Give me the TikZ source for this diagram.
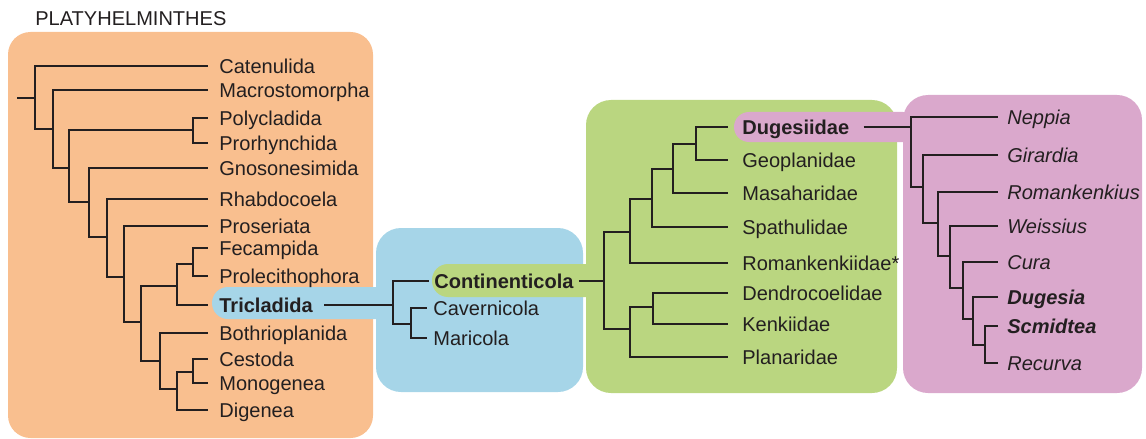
\documentclass[tikz,border=0pt]{standalone}
\usepackage{fontspec}
\setmainfont{Liberation Sans}
\usepackage{tikz}
\usetikzlibrary{positioning}

\definecolor{orangebox}{RGB}{249,191,143}
\definecolor{bluebox}{RGB}{166,213,232}
\definecolor{greenbox}{RGB}{186,214,128}
\definecolor{pinkbox}{RGB}{218,168,204}
\definecolor{treeline}{RGB}{35,31,32}

\newcommand{\taxfont}{\fontsize{11.4pt}{13.7pt}\selectfont}

\begin{document}
\begin{tikzpicture}[x=0.02cm, y=-0.02cm,
    clade/.style={line width=1.1pt, draw=treeline},
    leaf/.style={anchor=west, inner xsep=#1*0.02cm, inner ysep=0pt,
      text height=8.2pt, text depth=0pt, font=\taxfont, text=treeline},
    leaf/.default=11]
    \useasboundingbox (0,0) rectangle (1146,439);

    % Group boxes
    \fill[orangebox, rounded corners=0.45cm] (8,32) rectangle (373,438);
    \fill[bluebox, rounded corners=0.5cm] (376,228) rectangle (583,392);
    \fill[greenbox, rounded corners=0.5cm] (586,100) rectangle (897,393);
    \fill[pinkbox, rounded corners=0.5cm] (903,95) rectangle (1142,393);

    % Highlight bands linking to the next box
    \fill[bluebox, rounded corners=0.32cm] (212,287) rectangle (395,319);
    \fill[greenbox, rounded corners=0.32cm] (432,264) rectangle (605,297);
    \fill[pinkbox, rounded corners=0.3cm] (734,112) rectangle (918,142);

    % Title
    \node[leaf=0] (title) at (35,18.5) {PLATYHELMINTHES};

    % Platyhelminthes leaves
    \node[leaf] (catenulida) at (208,66) {Catenulida};
    \node[leaf] (macro) at (208,90) {Macrostomorpha};
    \node[leaf] (poly) at (208,118) {Polycladida};
    \node[leaf] (prorh) at (208,143) {Prorhynchida};
    \node[leaf] (gnoso) at (208,168) {Gnosonesimida};
    \node[leaf] (rhabdo) at (208,199) {Rhabdocoela};
    \node[leaf] (proser) at (208,226) {Proseriata};
    \node[leaf] (fecamp) at (208,248) {Fecampida};
    \node[leaf] (prolec) at (208,276) {Prolecithophora};
    \node[leaf, font=\taxfont\bfseries] (tricl) at (208,305) {Tricladida};
    \node[leaf] (bothrio) at (208,333) {Bothrioplanida};
    \node[leaf] (cestoda) at (208,359) {Cestoda};
    \node[leaf] (monog) at (208,383) {Monogenea};
    \node[leaf] (digenea) at (208,410) {Digenea};

    % Platyhelminthes branch points
    \coordinate (root0) at (17,98);
    \coordinate (nA) at (35,98);
    \coordinate (nB) at (53,129);
    \coordinate (nC) at (69,168);
    \coordinate (nPP) at (193,130);
    \coordinate (nD) at (89,202);
    \coordinate (nE) at (107,237);
    \coordinate (nF) at (124,277);
    \coordinate (nG) at (141,322);
    \coordinate (nH) at (177,286);
    \coordinate (nI) at (193,264);
    \coordinate (nJ) at (160,361);
    \coordinate (nK) at (177,389);
    \coordinate (nL) at (193,372);

    \draw[clade] (root0) -- (nA);
    \draw[clade] (nA) |- (catenulida.west) (nA) |- (nB);
    \draw[clade] (nB) |- (macro.west) (nB) |- (nC);
    \draw[clade] (nC) |- (nPP) (nC) |- (nD);
    \draw[clade] (nPP) |- (poly.west) (nPP) |- (prorh.west);
    \draw[clade] (nD) |- (gnoso.west) (nD) |- (nE);
    \draw[clade] (nE) |- (rhabdo.west) (nE) |- (nF);
    \draw[clade] (nF) |- (proser.west) (nF) |- (nG);
    \draw[clade] (nG) |- (nH) (nG) |- (nJ);
    \draw[clade] (nH) |- (nI) (nH) |- (tricl.west);
    \draw[clade] (nI) |- (fecamp.west) (nI) |- (prolec.west);
    \draw[clade] (nJ) |- (bothrio.west) (nJ) |- (nK);
    \draw[clade] (nK) |- (nL) (nK) |- (digenea.west);
    \draw[clade] (nL) |- (cestoda.west) (nL) |- (monog.west);

    % Tricladida
    \node[leaf=5, font=\taxfont\bfseries] (conti) at (429,281) {Continenticola};
    \node[leaf=6] (caver) at (427,308) {Cavernicola};
    \node[leaf=6] (mari) at (427,338) {Maricola};
    \coordinate (nM) at (393,305);
    \coordinate (nN) at (411,324);

    \draw[clade] (tricl.east) -- (nM);
    \draw[clade] (nM) |- (conti.west) (nM) |- (nN);
    \draw[clade] (nN) |- (caver.west) (nN) |- (mari.west);

    % Continenticola
    \node[leaf=14, font=\taxfont\bfseries] (dugesiidae) at (728,127) {Dugesiidae};
    \node[leaf=14] (geoplan) at (728,160) {Geoplanidae};
    \node[leaf=14] (masahar) at (728,193) {Masaharidae};
    \node[leaf=14] (spathul) at (728,227) {Spathulidae};
    \node[leaf=14] (romank) at (728,263) {Romankenkiidae*};
    \node[leaf=14] (dendro) at (728,293) {Dendrocoelidae};
    \node[leaf=14] (kenk) at (728,324) {Kenkiidae};
    \node[leaf=14] (planar) at (728,357) {Planaridae};
    \coordinate (nO) at (604,281);
    \coordinate (nP) at (630,232);
    \coordinate (nQ) at (652,199);
    \coordinate (nR) at (673,169);
    \coordinate (nS) at (696,144);
    \coordinate (nT) at (630,329);
    \coordinate (nU) at (653,307);

    \draw[clade] (conti.east) -- (nO);
    \draw[clade] (nO) |- (nP) (nO) |- (nT);
    \draw[clade] (nP) |- (nQ) (nP) |- (romank.west);
    \draw[clade] (nQ) |- (nR) (nQ) |- (spathul.west);
    \draw[clade] (nR) |- (nS) (nR) |- (masahar.west);
    \draw[clade] (nS) |- (dugesiidae.west) (nS) |- (geoplan.west);
    \draw[clade] (nT) |- (nU) (nT) |- (planar.west);
    \draw[clade] (nU) |- (dendro.west) (nU) |- (kenk.west);

    % Dugesiidae genera
    \node[leaf=9, font=\taxfont\itshape] (neppia) at (998,117) {Neppia};
    \node[leaf=9, font=\taxfont\itshape] (girardia) at (998,155) {Girardia};
    \node[leaf=9, font=\taxfont\itshape] (romankius) at (998,192) {Romankenkius};
    \node[leaf=9, font=\taxfont\itshape] (weissius) at (998,226) {Weissius};
    \node[leaf=9, font=\taxfont\itshape] (cura) at (998,262) {Cura};
    \node[leaf=9, font=\taxfont\bfseries\itshape] (dugesia) at (998,297) {Dugesia};
    \node[leaf=9, font=\taxfont\bfseries\itshape] (scmidtea) at (998,326) {Scmidtea};
    \node[leaf=9, font=\taxfont\itshape] (recurva) at (998,363) {Recurva};
    \coordinate (nV) at (911,127);
    \coordinate (nW) at (923,187);
    \coordinate (nX) at (938,223);
    \coordinate (nY) at (950,256);
    \coordinate (nZ) at (963,288);
    \coordinate (nAA) at (973,319);
    \coordinate (nAB) at (985,345);

    \draw[clade] (dugesiidae.east) -- (nV);
    \draw[clade] (nV) |- (neppia.west) (nV) |- (nW);
    \draw[clade] (nW) |- (girardia.west) (nW) |- (nX);
    \draw[clade] (nX) |- (romankius.west) (nX) |- (nY);
    \draw[clade] (nY) |- (weissius.west) (nY) |- (nZ);
    \draw[clade] (nZ) |- (cura.west) (nZ) |- (nAA);
    \draw[clade] (nAA) |- (dugesia.west) (nAA) |- (nAB);
    \draw[clade] (nAB) |- (scmidtea.west) (nAB) |- (recurva.west);

  \end{tikzpicture}
\end{document}
